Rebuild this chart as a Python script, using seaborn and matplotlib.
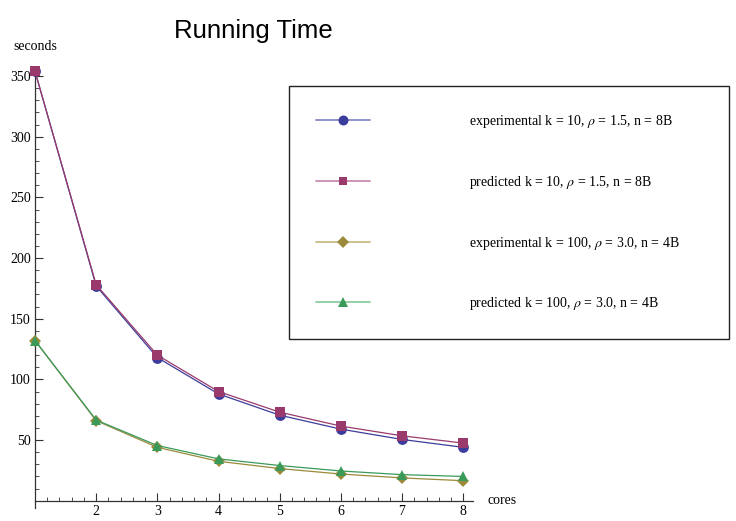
import numpy as np
import pandas as pd
import matplotlib
matplotlib.use("Agg")
import matplotlib.pyplot as plt
from matplotlib.lines import Line2D
from matplotlib.ticker import FixedLocator
import seaborn as sns

# ---- data ----
cores = [1, 2, 3, 4, 5, 6, 7, 8]
exp_k10 = [354, 177, 118, 88, 70.5, 59, 50.5, 44]
pred_k10 = [354, 178, 120, 90, 73, 61.5, 53.5, 47.5]
exp_k100 = [132, 66, 44, 32.5, 26.5, 22, 18.8, 16.5]
pred_k100 = [132, 66.5, 45.5, 34.5, 29, 24.5, 21.5, 20]
labels = [
    r"experimental k = 10, $\rho$ = 1.5, n = 8B",
    r"predicted k = 10, $\rho$ = 1.5, n = 8B",
    r"experimental k = 100, $\rho$ = 3.0, n = 4B",
    r"predicted k = 100, $\rho$ = 3.0, n = 4B",
]
series_values = [exp_k10, pred_k10, exp_k100, pred_k100]
x_ticks = [2, 3, 4, 5, 6, 7, 8]
y_ticks = [50, 100, 150, 200, 250, 300, 350]

marker_colors = ["#3c3c9c", "#9a3a6c", "#9a8a3a", "#3a9a5a"]
legend_line_colors = ["#8a8ac8", "#c88cb0", "#c8bc84", "#8ccca0"]
markers = ["o", "s", "D", "^"]
msizes = [7.8, 6.8, 6.3, 7.8]

rows = []
for lab, vals in zip(labels, series_values):
    for c, v in zip(cores, vals):
        rows.append({"cores": c, "seconds": v, "series": lab})
df = pd.DataFrame(rows)

sns.set_style("white")
plt.rcParams["font.family"] = ["Liberation Serif", "DejaVu Serif"]
plt.rcParams["mathtext.fontset"] = "stix"
plt.rcParams["text.color"] = "black"
plt.rcParams["xtick.color"] = "black"
plt.rcParams["ytick.color"] = "black"

fig = plt.figure(figsize=(7.36, 5.21), dpi=100)
ax = fig.add_axes([35 / 736, 1 - 508 / 521, 438 / 736, 438 / 521])

for i, lab in enumerate(labels):
    sub = df[df["series"] == lab]
    sns.lineplot(data=sub, x="cores", y="seconds", ax=ax, color=marker_colors[i],
                 marker=markers[i], markersize=msizes[i], markeredgewidth=0,
                 linewidth=0.9, legend=False, clip_on=False, zorder=3 + i)

ax.set_xlim(1, 8.16)
ax.set_ylim(-6, 355)
ax.spines["top"].set_visible(False)
ax.spines["right"].set_visible(False)
ax.spines["bottom"].set_position(("data", 0))
for s in ["left", "bottom"]:
    ax.spines[s].set_color("#333333")
    ax.spines[s].set_linewidth(0.9)

ax.xaxis.set_major_locator(FixedLocator(x_ticks))
ax.xaxis.set_minor_locator(FixedLocator(list(np.arange(1.2, 8.16, 0.2))))
ax.yaxis.set_major_locator(FixedLocator(y_ticks))
ax.yaxis.set_minor_locator(FixedLocator(list(range(10, 355, 10))))
ax.tick_params(which="major", direction="in", length=5.5, width=0.8, color="#333333",
               labelsize=10, pad=3, labelcolor="black")
ax.tick_params(which="minor", direction="in", length=3, width=0.6, color="#333333")
ax.tick_params(axis="x", which="both", bottom=True, top=False)
ax.tick_params(axis="y", which="both", left=True, right=False)
ax.set_xlabel("")
ax.set_ylabel("")
ax.grid(False)

fig.text(35 / 736, 1 - 50 / 521, "seconds", ha="center", va="baseline", fontsize=10,
         color="black")
fig.text(487 / 736, 1 - 501 / 521, "cores", ha="left", va="center", fontsize=10,
         color="black")
fig.text(253 / 736, 1 - 38 / 521, "Running Time", ha="center", va="baseline",
         fontsize=18.5, color="black", family=["Liberation Sans", "DejaVu Sans"])

handles = [Line2D([0], [0], color=legend_line_colors[i], lw=1.3, marker=markers[i],
                  markersize=msizes[i] * 0.92, markerfacecolor=marker_colors[i],
                  markeredgewidth=0) for i in range(4)]
leg = fig.legend(handles, labels, loc="upper left",
                 bbox_to_anchor=(289 / 736, 1 - 339 / 521, 440 / 736, 253 / 521),
                 bbox_transform=fig.transFigure, mode="expand", borderaxespad=0,
                 frameon=True, fancybox=False, edgecolor="#222222", framealpha=1,
                 handlelength=3.9, handletextpad=7.1, borderpad=1.95, labelspacing=3.15,
                 numpoints=1, prop={"size": 10})
leg.get_frame().set_linewidth(1.0)
for t in leg.get_texts():
    t.set_color("black")

fig.savefig("out.png", dpi=100)
